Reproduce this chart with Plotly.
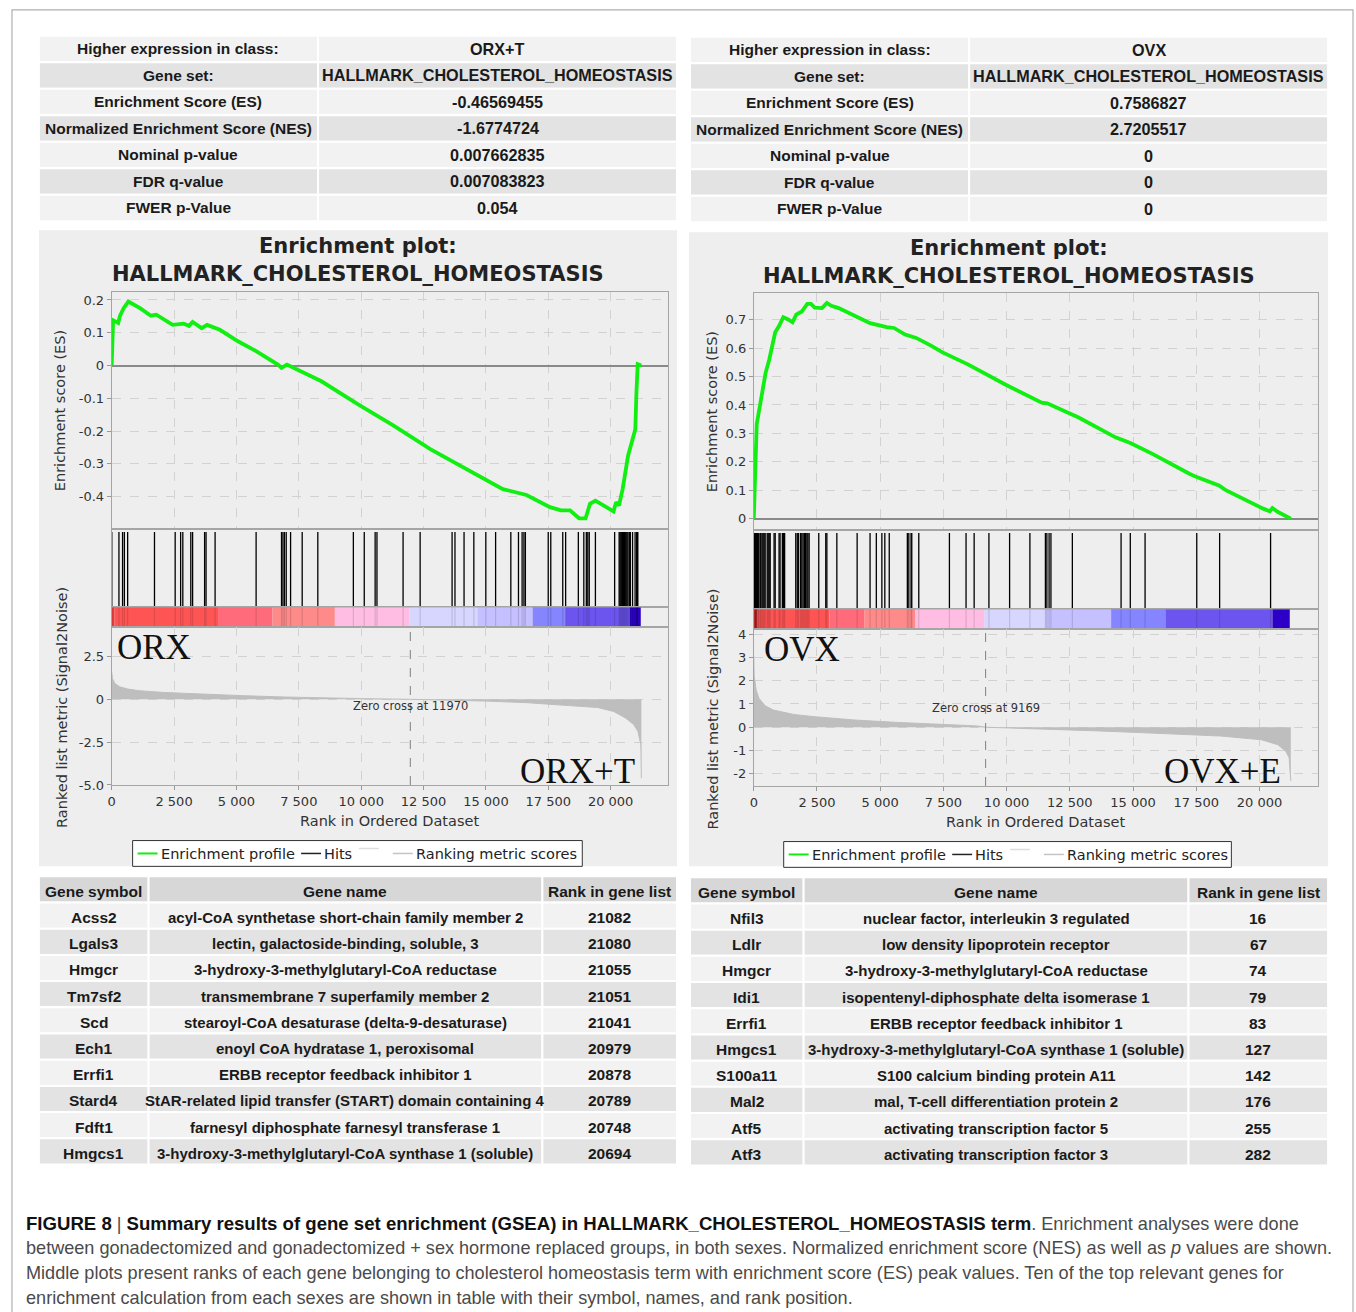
import plotly.graph_objects as go

W, H = 1356, 1312

# ====================== DATA ======================
stats_labels = ["Higher expression in class:", "Gene set:", "Enrichment Score (ES)",
                "Normalized Enrichment Score (NES)", "Nominal p-value", "FDR q-value", "FWER p-Value"]
stats_orx = ["ORX+T", "HALLMARK_CHOLESTEROL_HOMEOSTASIS", "-0.46569455", "-1.6774724",
             "0.007662835", "0.007083823", "0.054"]
stats_ovx = ["OVX", "HALLMARK_CHOLESTEROL_HOMEOSTASIS", "0.7586827", "2.7205517", "0", "0", "0"]

gene_headers = ["Gene symbol", "Gene name", "Rank in gene list"]
orx_symbols = ["Acss2", "Lgals3", "Hmgcr", "Tm7sf2", "Scd", "Ech1", "Errfi1", "Stard4", "Fdft1", "Hmgcs1"]
orx_names = ["acyl-CoA synthetase short-chain family member 2",
             "lectin, galactoside-binding, soluble, 3",
             "3-hydroxy-3-methylglutaryl-CoA reductase",
             "transmembrane 7 superfamily member 2",
             "stearoyl-CoA desaturase (delta-9-desaturase)",
             "enoyl CoA hydratase 1, peroxisomal",
             "ERBB receptor feedback inhibitor 1",
             "StAR-related lipid transfer (START) domain containing 4",
             "farnesyl diphosphate farnesyl transferase 1",
             "3-hydroxy-3-methylglutaryl-CoA synthase 1 (soluble)"]
orx_ranks = [21082, 21080, 21055, 21051, 21041, 20979, 20878, 20789, 20748, 20694]

ovx_symbols = ["Nfil3", "Ldlr", "Hmgcr", "Idi1", "Errfi1", "Hmgcs1", "S100a11", "Mal2", "Atf5", "Atf3"]
ovx_names = ["nuclear factor, interleukin 3 regulated",
             "low density lipoprotein receptor",
             "3-hydroxy-3-methylglutaryl-CoA reductase",
             "isopentenyl-diphosphate delta isomerase 1",
             "ERBB receptor feedback inhibitor 1",
             "3-hydroxy-3-methylglutaryl-CoA synthase 1 (soluble)",
             "S100 calcium binding protein A11",
             "mal, T-cell differentiation protein 2",
             "activating transcription factor 5",
             "activating transcription factor 3"]
ovx_ranks = [16, 67, 74, 79, 83, 127, 142, 176, 255, 282]

# Running enrichment score
es_rank_orx = [0, 29, 58, 262, 335, 480, 669, 1135, 1571, 1789, 2444, 2880, 3098, 3244, 3607,
               3825, 4335, 5062, 5789, 6662, 6807, 7025, 7535, 8407, 9862, 11316, 12771, 14225,
               15680, 16625, 17571, 18007, 18371, 18735, 18996, 19171, 19389, 20116, 20218,
               20334, 20480, 20698, 20843, 20989, 21033, 21085, 21230]
es_val_orx = [0, 0.099, 0.138, 0.130, 0.152, 0.175, 0.195, 0.175, 0.152, 0.155, 0.124, 0.128,
              0.121, 0.133, 0.114, 0.124, 0.109, 0.074, 0.044, 0.003, -0.007, 0.003, -0.017,
              -0.048, -0.118, -0.184, -0.255, -0.316, -0.377, -0.395, -0.432, -0.442, -0.442,
              -0.466, -0.466, -0.422, -0.412, -0.445, -0.417, -0.427, -0.377, -0.275, -0.230,
              -0.194, -0.083, 0.004, 0.0]

es_rank_ovx = [0, 29, 73, 117, 175, 263, 365, 467, 613, 701, 847, 993, 1168, 1343, 1533, 1679,
               1898, 2117, 2263, 2409, 2701, 2891, 3066, 3358, 4088, 4599, 5256, 5548, 5986,
               6424, 7008, 7446, 8468, 9928, 11388, 11607, 12848, 14308, 14892, 15768, 17228,
               17520, 18396, 18688, 20148, 20411, 20513, 20732, 21240]
es_val_ovx = [0, 0.07, 0.257, 0.333, 0.362, 0.408, 0.455, 0.513, 0.56, 0.601, 0.656, 0.677,
              0.709, 0.702, 0.691, 0.718, 0.729, 0.756, 0.756, 0.743, 0.741, 0.759, 0.749,
              0.741, 0.709, 0.688, 0.674, 0.671, 0.648, 0.636, 0.609, 0.586, 0.543, 0.473,
              0.408, 0.406, 0.356, 0.286, 0.266, 0.228, 0.158, 0.146, 0.117, 0.099, 0.035,
              0.026, 0.037, 0.023, 0.0]

# Positions of the gene-set members in the ranked list (hits)
hits_orx = [5, 291, 436, 509, 640, 1716, 2545, 2764, 2851, 3171, 3244, 3724, 3782, 4145, 5789,
            6807, 6865, 6924, 6996, 7171, 7636, 8262, 9687, 10124, 10560, 10633, 11680, 12364,
            13644, 13760, 14124, 14516, 14996, 15389, 15999, 16305, 16451, 16524, 16582, 17498,
            17600, 18080, 18196, 18705, 18924, 19025, 19084, 19142, 19389, 20160, 20340, 20375,
            20410, 20445, 20480, 20515, 20550, 20585, 20620, 20655, 20694, 20748, 20789, 20878,
            20979, 21041, 21051, 21055, 21080, 21082]
hits_ovx = [16, 30, 67, 74, 79, 83, 100, 127, 142, 176, 200, 255, 282, 330, 370, 410, 450, 530,
            570, 610, 650, 803, 847, 1000, 1040, 1130, 1180, 1220, 1660, 1720, 1770, 1850, 1900,
            1950, 2000, 2050, 2100, 2140, 2190, 2570, 2847, 2891, 3285, 4088, 4599, 4847, 5066,
            5183, 5358, 6074, 6132, 6220, 6249, 6526, 7738, 8395, 8716, 9300, 10118, 10921,
            11534, 11592, 11680, 11753, 12600, 14527, 14892, 15476, 17520, 18425, 20440]

# Ranked list metric (Signal2Noise)
metric_rank_orx = [0, 32, 129, 322, 644, 1127, 2093, 3703, 5313, 6923, 8533, 10143, 11970,
                   13363, 14973, 16583, 18193, 19481, 20125, 20608, 20930, 21091, 21204, 21215, 21230]
metric_val_orx = [1.6, 1.21, 0.92, 0.73, 0.6, 0.5, 0.40, 0.29, 0.21, 0.135, 0.077, 0.04, 0.0,
                  -0.04, -0.1, -0.19, -0.33, -0.48, -0.71, -1.1, -1.48, -1.87, -2.6, -2.9, -4.6]
metric_rank_ovx = [0, 15, 50, 97, 209, 450, 772, 1577, 2381, 3990, 5599, 7208, 8817, 9169,
                   10426, 12035, 13644, 15253, 16862, 18471, 20080, 20724, 21046, 21174, 21240]
metric_val_ovx = [3.1, 2.2, 1.95, 1.59, 1.24, 0.92, 0.74, 0.55, 0.455, 0.31, 0.21, 0.13, 0.057,
                  0.0, -0.04, -0.1, -0.16, -0.23, -0.3, -0.38, -0.54, -0.75, -1.04, -1.32, -2.32]

zero_cross_orx = 11970
zero_cross_ovx = 9169

# Ranked-list colour bar (segment edges in rank units, colours)
cbar_edges_orx = [0, 116, 4262, 6444, 8945, 11942, 14662, 16873, 18182, 20771, 21207]
cbar_edges_ovx = [0, 146, 2993, 4380, 6395, 9125, 11534, 14133, 16279, 20513, 21199]
cbar_colors = ["#e83a3a", "#ff5454", "#ff6b7b", "#ff8a8a", "#ffbde3", "#d6d6ff", "#c5c0ff",
               "#8585ff", "#6b55ee", "#2d00c8"]

rank_tick_vals = [0, 2500, 5000, 7500, 10000, 12500, 15000, 17500, 20000]
rank_tick_text = ["0", "2 500", "5 000", "7 500", "10 000", "12 500", "15 000", "17 500", "20 000"]
es_tick_vals_orx = [0.2, 0.1, 0, -0.1, -0.2, -0.3, -0.4]
es_tick_text_orx = ["0.2", "0.1", "0", "-0.1", "-0.2", "-0.3", "-0.4"]
es_tick_vals_ovx = [0.7, 0.6, 0.5, 0.4, 0.3, 0.2, 0.1, 0]
es_tick_text_ovx = ["0.7", "0.6", "0.5", "0.4", "0.3", "0.2", "0.1", "0"]
metric_tick_vals_orx = [2.5, 0, -2.5, -5.0]
metric_tick_text_orx = ["2.5", "0", "-2.5", "-5.0"]
metric_tick_vals_ovx = [4, 3, 2, 1, 0, -1, -2]
metric_tick_text_ovx = ["4", "3", "2", "1", "0", "-1", "-2"]

group_labels_orx = ["ORX", "ORX+T"]
group_labels_ovx = ["OVX", "OVX+E"]

BOLD = "<span style='color:#111;font-size:18.6px'><b>{}</b></span>"
caption_lines = [
    BOLD.format("FIGURE 8") + " | " + BOLD.format("Summary results of gene set enrichment (GSEA) in HALLMARK_CHOLESTEROL_HOMEOSTASIS term") + ". Enrichment analyses were done",
    "between gonadectomized and gonadectomized + sex hormone replaced groups, in both sexes. Normalized enrichment score (NES) as well as <i>p</i> values are shown.",
    "Middle plots present ranks of each gene belonging to cholesterol homeostasis term with enrichment score (ES) peak values. Ten of the top relevant genes for",
    "enrichment calculation from each sexes are shown in table with their symbol, names, and rank position.",
]

# ====================== LAYOUT HELPERS ======================
def fx(px):
    return px / W

def fy(py):
    return 1 - py / H

def xa(k): return "xaxis" if k == 1 else f"xaxis{k}"
def ya(k): return "yaxis" if k == 1 else f"yaxis{k}"
def xr(k): return "x" if k == 1 else f"x{k}"
def yr(k): return "y" if k == 1 else f"y{k}"

TABLE_FONT = "Liberation Sans, Arial, sans-serif"
JAVA_FONT = "DejaVu Sans, sans-serif"
LIGHT, DARK, HEAD = "#f2f2f2", "#e3e3e3", "#d7d7d7"

shapes, annotations, axes = [], [], {}

def rect(x0, y0, x1, y1, fill, line=None, lw=0, layer="below"):
    shapes.append(dict(type="rect", xref="paper", yref="paper", x0=fx(x0), x1=fx(x1),
                       y0=fy(y1), y1=fy(y0), fillcolor=fill, layer=layer,
                       line=dict(color=line or fill, width=lw)))

def text(x, y, s, size, family=TABLE_FONT, color="#1a1a1a", xanchor="center", angle=0, yanchor="middle"):
    annotations.append(dict(x=fx(x), y=fy(y), xref="paper", yref="paper", text=s,
                            showarrow=False, xanchor=xanchor, yanchor=yanchor, textangle=angle,
                            font=dict(family=family, size=size, color=color)))

# outer frame (continues below the visible area)
shapes.append(dict(type="rect", xref="paper", yref="paper", x0=fx(8), x1=fx(1353), y0=fy(1330),
                   y1=fy(8), line=dict(color="#b0b0b0", width=1.2), fillcolor="rgba(0,0,0,0)", layer="below"))

# ---------- stats tables ----------
def stats_table(x0, xm, x1, top, labels, values):
    rh = 26.7
    for i, (lab, val) in enumerate(zip(labels, values)):
        y0 = top + i * rh
        fill = LIGHT if i % 2 == 0 else DARK
        rect(x0, y0, xm, y0 + rh, fill, "white", 2)
        rect(xm, y0, x1, y0 + rh, fill, "white", 2)
        text((x0 + xm) / 2, y0 + rh / 2, f"<b>{lab}</b>", 15.5)
        text((xm + x1) / 2, y0 + rh / 2, f"<b>{val}</b>", 16.2)

stats_table(35, 315, 675, 34, stats_labels, stats_orx)
stats_table(688, 968, 1328, 35, stats_labels, stats_ovx)

# ---------- gene tables ----------
def gene_table(cols, top, symbols, names, ranks):
    rh = 26.4
    rows = [gene_headers] + [[s, n, str(r)] for s, n, r in zip(symbols, names, ranks)]
    for i, row in enumerate(rows):
        y0 = top + i * rh
        fill = HEAD if i == 0 else (LIGHT if i % 2 == 1 else DARK)
        for j in range(3):
            rect(cols[j], y0, cols[j + 1], y0 + rh, fill, "white", 2)
            size = 15.0 if (j == 1 and i > 0) else 15.5
            text((cols[j] + cols[j + 1]) / 2, y0 + rh / 2 + 2, f"<b>{row[j]}</b>", size)

gene_table([35, 145, 540, 675], 881, orx_symbols, orx_names, orx_ranks)
gene_table([688, 802, 1188, 1328], 882, ovx_symbols, ovx_names, ovx_ranks)

# ---------- enrichment plot panels ----------
panels = [
    dict(bg=(35, 230, 675, 871), px=(108, 666), es=(292, 531), hits_px=(531, 610), cbar=(610, 630),
         rank=(630, 789), xmax=22300, es_range=[-0.4985, 0.225], m_range=[-5.0, 4.21],
         es_rank=es_rank_orx, es_val=es_val_orx, hits=hits_orx, m_rank=metric_rank_orx,
         m_val=metric_val_orx, zc=zero_cross_orx, edges=cbar_edges_orx,
         es_tv=es_tick_vals_orx, es_tt=es_tick_text_orx, m_tv=metric_tick_vals_orx,
         m_tt=metric_tick_text_orx, labels=group_labels_orx, ytitle_x=57, legend=(129, 845, 580, 871),
         lab_hi=(111, 650), lab_lo=(635, 775), xtitle_y=825),
    dict(bg=(687, 232, 1328, 871), px=(752, 1318), es=(293, 532), hits_px=(532, 612), cbar=(612, 632),
         rank=(632, 790), xmax=22320, es_range=[-0.04, 0.795], m_range=[-2.53, 4.22],
         es_rank=es_rank_ovx, es_val=es_val_ovx, hits=hits_ovx, m_rank=metric_rank_ovx,
         m_val=metric_val_ovx, zc=zero_cross_ovx, edges=cbar_edges_ovx,
         es_tv=es_tick_vals_ovx, es_tt=es_tick_text_ovx, m_tv=metric_tick_vals_ovx,
         m_tt=metric_tick_text_ovx, labels=group_labels_ovx, ytitle_x=710, legend=(782, 846, 1231, 872),
         lab_hi=(760, 652), lab_lo=(1283, 775), xtitle_y=826),
]

GRID = dict(showgrid=True, gridcolor="#d2d2d2", griddash="dash", gridwidth=1)
NOGRID = dict(showgrid=False)
BORDER = dict(showline=True, mirror=True, linecolor="#a5a5a5", linewidth=1)
TICKFONT = dict(family=JAVA_FONT, size=13, color="#333333")

fig = go.Figure()

for p, d in enumerate(panels):
    b = 4 * p
    rect(*d["bg"], "#eeeeee")
    xdom = [fx(d["px"][0]), fx(d["px"][1])]
    xrange_ = [0, d["xmax"]]
    cx = (d["bg"][0] + d["bg"][2]) / 2
    text(cx, d["bg"][1] + 16, "<b>Enrichment plot:</b>", 21, JAVA_FONT, "#222")
    text(cx, d["bg"][1] + 44, "<b>HALLMARK_CHOLESTEROL_HOMEOSTASIS</b>", 21, JAVA_FONT, "#222")

    # ES panel
    k = b + 1
    axes[xa(k)] = dict(domain=xdom, range=xrange_, anchor=yr(k), tickvals=rank_tick_vals,
                       showticklabels=False, ticks="", zeroline=False, **GRID, **BORDER)
    axes[ya(k)] = dict(domain=[fy(d["es"][1]), fy(d["es"][0])], range=d["es_range"], anchor=xr(k),
                       tickvals=d["es_tv"], ticktext=d["es_tt"], ticks="outside", ticklen=4,
                       tickcolor="#999", tickfont=TICKFONT, zeroline=True, zerolinecolor="#8a8a8a",
                       zerolinewidth=2, **GRID, **BORDER)
    fig.add_trace(go.Scatter(x=d["es_rank"], y=d["es_val"], mode="lines",
                             line=dict(color="#11ee11", width=3.8), xaxis=xr(k), yaxis=yr(k),
                             showlegend=False, hoverinfo="skip"))

    # hits panel
    k = b + 2
    axes[xa(k)] = dict(domain=xdom, range=xrange_, anchor=yr(k), showticklabels=False, ticks="",
                       zeroline=False, **NOGRID, **BORDER)
    axes[ya(k)] = dict(domain=[fy(d["hits_px"][1]), fy(d["hits_px"][0])], range=[0, 1.04], anchor=xr(k),
                       showticklabels=False, ticks="", zeroline=False, **NOGRID, **BORDER)
    hx, hy = [], []
    for h in d["hits"]:
        hx += [h, h, None]
        hy += [0, 1, None]
    fig.add_trace(go.Scatter(x=hx, y=hy, mode="lines", line=dict(color="black", width=1.3),
                             xaxis=xr(k), yaxis=yr(k), showlegend=False, hoverinfo="skip"))

    # colour bar
    k = b + 3
    axes[xa(k)] = dict(domain=xdom, range=xrange_, anchor=yr(k), showticklabels=False, ticks="",
                       zeroline=False, **NOGRID, **BORDER)
    axes[ya(k)] = dict(domain=[fy(d["cbar"][1]), fy(d["cbar"][0])], range=[-0.5, 0.5], anchor=xr(k),
                       showticklabels=False, ticks="", zeroline=False, **NOGRID, **BORDER)
    edges = d["edges"]
    fig.add_trace(go.Bar(x=[e1 - e0 for e0, e1 in zip(edges[:-1], edges[1:])], base=edges[:-1],
                         y=[0] * (len(edges) - 1), orientation="h", width=1,
                         marker=dict(color=cbar_colors, line=dict(width=0)),
                         xaxis=xr(k), yaxis=yr(k), showlegend=False, hoverinfo="skip"))
    cy = []
    for h in d["hits"]:
        cy += [-0.5, 0.5, None]
    fig.add_trace(go.Scatter(x=hx, y=cy, mode="lines", line=dict(color="rgba(0,0,0,0.13)", width=1.2),
                             xaxis=xr(k), yaxis=yr(k), showlegend=False, hoverinfo="skip"))

    # ranked list metric
    k = b + 4
    axes[xa(k)] = dict(domain=xdom, range=xrange_, anchor=yr(k), tickvals=rank_tick_vals,
                       ticktext=rank_tick_text, ticks="outside", ticklen=4, tickcolor="#999",
                       tickfont=TICKFONT, zeroline=False, **GRID, **BORDER)
    axes[ya(k)] = dict(domain=[fy(d["rank"][1]), fy(d["rank"][0])], range=d["m_range"], anchor=xr(k),
                       tickvals=d["m_tv"], ticktext=d["m_tt"], ticks="outside", ticklen=4,
                       tickcolor="#999", tickfont=TICKFONT, zeroline=False, **GRID, **BORDER)
    fig.add_trace(go.Scatter(x=d["m_rank"], y=d["m_val"], mode="lines", fill="tozeroy",
                             fillcolor="#bebebe", line=dict(color="#bebebe", width=1),
                             xaxis=xr(k), yaxis=yr(k), showlegend=False, hoverinfo="skip"))
    shapes.append(dict(type="line", xref=xr(k), yref=yr(k) + " domain", x0=d["zc"], x1=d["zc"],
                       y0=0, y1=1, line=dict(color="#808080", width=1, dash="dash")))
    annotations.append(dict(x=d["zc"], y=0.5, xref=xr(k), yref=yr(k) + " domain",
                            text=f"Zero cross at {d['zc']}", showarrow=False, yanchor="middle",
                            font=dict(family=JAVA_FONT, size=11.5, color="#333")))
    # group labels
    text(d["lab_hi"][0], d["lab_hi"][1], d["labels"][0], 35, "Liberation Serif, Times New Roman, serif",
         "#111", xanchor="left")
    text(d["lab_lo"][0], d["lab_lo"][1], d["labels"][1], 35, "Liberation Serif, Times New Roman, serif",
         "#111", xanchor="right")

    # axis titles
    text(d["ytitle_x"], (d["es"][0] + d["es"][1]) / 2, "Enrichment score (ES)", 14.5, JAVA_FONT,
         "#333", angle=-90)
    text(d["ytitle_x"] + 1, (d["rank"][0] + d["rank"][1]) / 2 + 1, "Ranked list metric (Signal2Noise)",
         14.5, JAVA_FONT, "#333", angle=-90)
    text((d["px"][0] + d["px"][1]) / 2, d["xtitle_y"], "Rank in Ordered Dataset", 14.5, JAVA_FONT, "#333")

    # legend
    L, T, R, B = d["legend"]
    rect(L, T, R, B, "white", "#333", 1, layer="above")
    my = (T + B) / 2
    for (a0, a1, col, dy) in [(5, 25, "#11ee11", 0), (169, 189, "#222", 0), (227, 247, "#dddddd", -5),
                              (261, 281, "#c4c4c4", 0)]:
        shapes.append(dict(type="line", xref="paper", yref="paper", x0=fx(L + a0), x1=fx(L + a1),
                           y0=fy(my + dy), y1=fy(my + dy),
                           line=dict(color=col, width=2 if col == "#11ee11" else 1.5)))
    text(L + 26, my + 1, "Enrichment profile", 14.5, JAVA_FONT, "#222", xanchor="left")
    text(L + 190, my + 1, "Hits", 14.5, JAVA_FONT, "#222", xanchor="left")
    text(L + 282, my + 1, "Ranking metric scores", 14.5, JAVA_FONT, "#222", xanchor="left")

# caption
for i, line in enumerate(caption_lines):
    text(20, 1231 + 25 * i, line, 18.1, "Liberation Sans, Arial, sans-serif", "#4a4a4a", xanchor="left")

fig.update_layout(width=W, height=H, margin=dict(l=0, r=0, t=0, b=0), paper_bgcolor="white",
                  plot_bgcolor="white", barmode="overlay", showlegend=False,
                  shapes=shapes, annotations=annotations, **axes)

fig.write_html("out.html")
